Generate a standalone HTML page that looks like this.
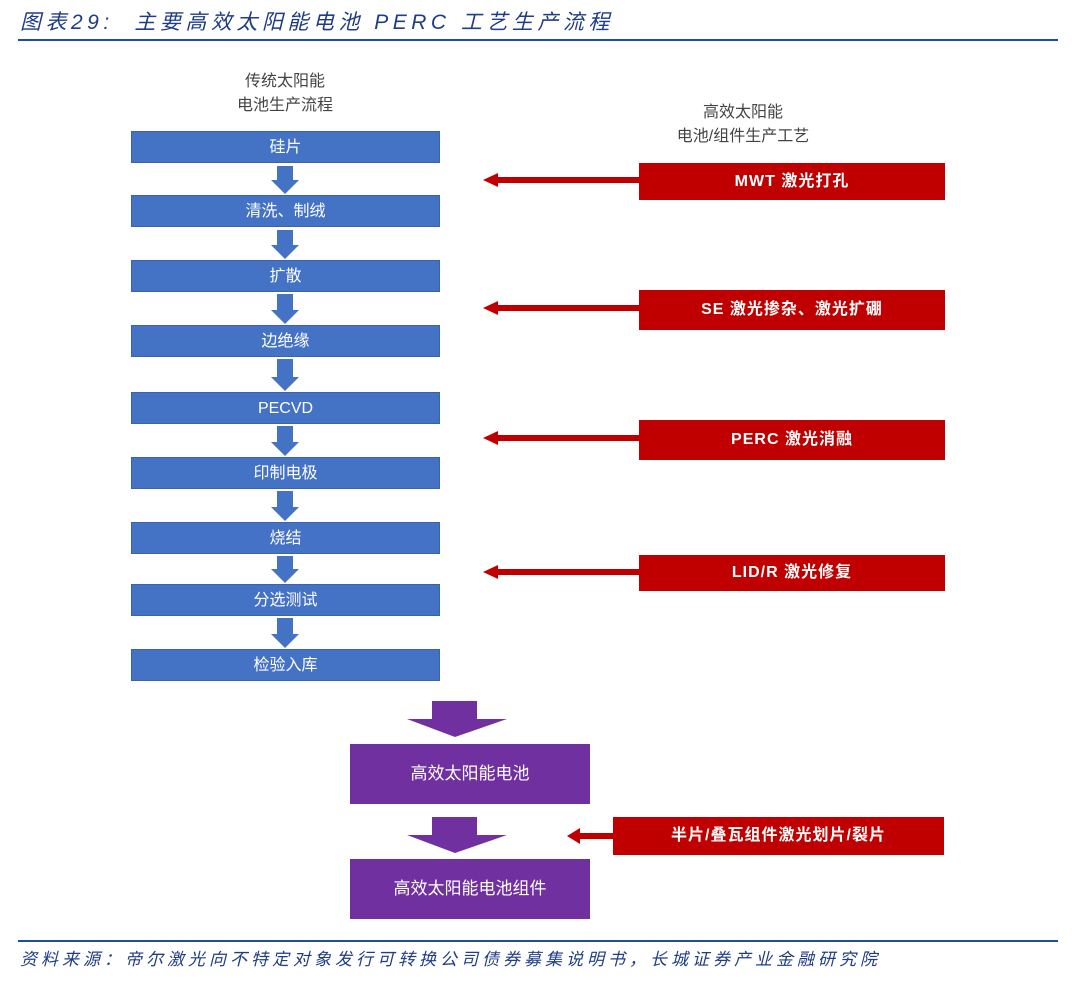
<!DOCTYPE html>
<html><head><meta charset="utf-8"><style>
body{margin:0;width:1074px;height:985px;background:#fff;position:relative;font-family:"Liberation Sans","Noto Sans CJK SC",sans-serif;overflow:hidden}
.a{position:absolute}
.t{color:#1f3c88;font-style:italic;font-size:21px;left:20px;top:6px;letter-spacing:4.5px}
.hl{left:18px;width:1040px;height:2px;background:#1f4e9c}
.b{position:absolute;left:131px;width:309px;height:32px;background:#4472c4;border:1px solid #3a62ad;box-sizing:border-box;color:#fff;font-size:16px;text-align:center;line-height:31px}
.r{position:absolute;background:#c00000;color:#fff;font-weight:bold;font-size:16px;text-align:center;box-sizing:border-box;letter-spacing:1px}
.p{position:absolute;left:350px;width:240px;height:60px;background:#7030a0;color:#fff;font-size:17px;text-align:center;line-height:60px}
.h{position:absolute;color:#444;font-size:16px;text-align:center;line-height:24px}
</style></head><body>
<div class="a t">图表29:&nbsp; 主要高效太阳能电池 PERC 工艺生产流程</div>
<div class="a hl" style="top:39px"></div>
<div class="h" style="left:185px;width:200px;top:70px">传统太阳能<br>电池生产流程</div>
<div class="h" style="left:633px;width:220px;top:101px">高效太阳能<br>电池/组件生产工艺</div>
<div class="b" style="top:131px">硅片</div>
<div class="b" style="top:195px">清洗、制绒</div>
<div class="b" style="top:260px">扩散</div>
<div class="b" style="top:325px">边绝缘</div>
<div class="b" style="top:392px">PECVD</div>
<div class="b" style="top:457px">印制电极</div>
<div class="b" style="top:522px">烧结</div>
<div class="b" style="top:584px">分选测试</div>
<div class="b" style="top:649px">检验入库</div>
<svg class="a" style="left:0;top:0" width="1074" height="985">
<g fill="#4472c4">
<polygon points="277,166 293,166 293,180 299,180 285,194 271,180 277,180"/>
<polygon points="277,230 293,230 293,245 299,245 285,259 271,245 277,245"/>
<polygon points="277,294 293,294 293,310 299,310 285,324 271,310 277,310"/>
<polygon points="277,359 293,359 293,377 299,377 285,391 271,377 277,377"/>
<polygon points="277,426 293,426 293,442 299,442 285,456 271,442 277,442"/>
<polygon points="277,491 293,491 293,507 299,507 285,521 271,507 277,507"/>
<polygon points="277,556 293,556 293,569 299,569 285,583 271,569 277,569"/>
<polygon points="277,618 293,618 293,634 299,634 285,648 271,634 277,634"/>
</g>
<g fill="#7030a0">
<polygon points="432,701 477,701 477,719 507,719 455,737 407,719 432,719"/>
<polygon points="432,817 477,817 477,835 507,835 455,853 407,835 432,835"/>
</g>
<g fill="#c00000">
<polygon points="639,177 498,177 498,173 483,180 498,187 498,183 639,183"/>
<polygon points="639,305 498,305 498,301 483,308 498,315 498,311 639,311"/>
<polygon points="639,435 498,435 498,431 483,438 498,445 498,441 639,441"/>
<polygon points="639,569 498,569 498,565 483,572 498,579 498,575 639,575"/>
<polygon points="613,833 580,833 580,828 567,836 580,844 580,839 613,839"/>
</g>
</svg>
<div class="r" style="left:639px;top:163px;width:306px;height:37px;line-height:37px">MWT 激光打孔</div>
<div class="r" style="left:639px;top:290px;width:306px;height:40px;line-height:40px">SE 激光掺杂、激光扩硼</div>
<div class="r" style="left:639px;top:420px;width:306px;height:40px;line-height:40px">PERC 激光消融</div>
<div class="r" style="left:639px;top:555px;width:306px;height:36px;line-height:36px">LID/R 激光修复</div>
<div class="r" style="left:613px;top:817px;width:331px;height:38px;line-height:38px">半片/叠瓦组件激光划片/裂片</div>
<div class="p" style="top:744px">高效太阳能电池</div>
<div class="p" style="top:859px">高效太阳能电池组件</div>
<div class="a hl" style="top:940px"></div>
<div class="a" style="left:20px;top:945px;color:#1f3c88;font-style:italic;font-size:17px;letter-spacing:4px">资料来源：帝尔激光向不特定对象发行可转换公司债券募集说明书，长城证券产业金融研究院</div>
</body></html>
